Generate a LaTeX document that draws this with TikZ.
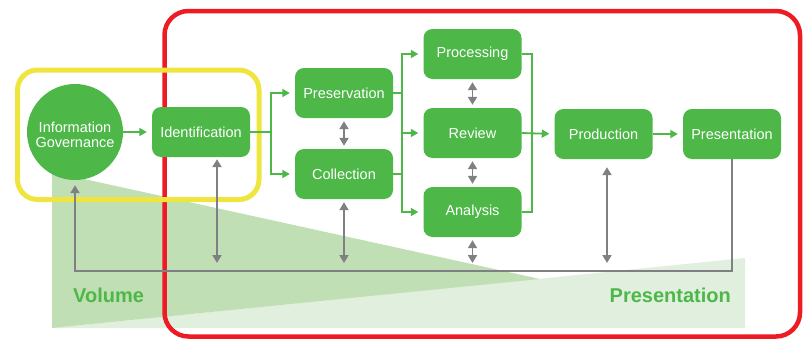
\documentclass[tikz,border=0pt]{standalone}
\usepackage{fontspec}
\setmainfont{Liberation Sans}
\usetikzlibrary{arrows.meta}
\definecolor{ngreen}{RGB}{77,183,72}
\definecolor{darktri}{RGB}{193,223,180}
\definecolor{lighttri}{RGB}{225,239,223}
\definecolor{fred}{RGB}{237,28,36}
\definecolor{fyellow}{RGB}{238,230,62}
\definecolor{lgray}{RGB}{128,128,132}
\tikzset{
  stagebox/.style={fill=ngreen, rounded corners=9pt, minimum width=98pt, minimum height=50pt,
    text=white, font=\fontsize{14.5}{16}\selectfont, inner sep=0pt},
  govcircle/.style={circle, fill=ngreen, minimum size=96pt, inner sep=0pt, text=white,
    align=center, font=\fontsize{14.5}{15.5}\selectfont},
  gline/.style={ngreen, line width=1.8pt},
  garrow/.style={ngreen, line width=1.8pt, -{Triangle[length=7.5pt,width=8pt]}, shorten >=5pt},
  dbl/.style={lgray, line width=1.9pt, {Triangle[length=8pt,width=9pt]}-{Triangle[length=8pt,width=9pt]}},
  grayline/.style={lgray, line width=1.9pt},
  biglabel/.style={text=ngreen, font=\fontsize{20}{22}\selectfont\bfseries, inner sep=0pt}
}
\begin{document}
\begin{tikzpicture}[x=1pt,y=-1pt]
\useasboundingbox (0,0) rectangle (803,340);
% background triangles
\fill[lighttri] (52,328) -- (745,258) -- (745,328) -- cycle;
\fill[darktri] (52,172) -- (540,279) -- (52,328) -- cycle;
% frames
\draw[fred, line width=4.5pt, rounded corners=24pt] (164.5,11) rectangle (800,336.5);
\draw[fyellow, line width=5pt, rounded corners=20pt] (17.5,70) rectangle (259,199.5);
% labels
\node[biglabel, anchor=west] (vol) at (73,295) {Volume};
\node[biglabel, anchor=east] (plab) at (731,295) {Presentation};
% nodes
\node[govcircle] (gov) at (75,132) {};
\node[text=white, align=center, font=\fontsize{14.5}{15.5}\selectfont, inner sep=0pt] (govtxt) at (75,135) {Information\\Governance};
\node[stagebox] (ident) at (201,132) {Identification};
\node[stagebox] (pres) at (344,93) {Preservation};
\node[stagebox] (coll) at (344,174) {Collection};
\node[stagebox] (proc) at (472.5,54) {Processing};
\node[stagebox] (rev) at (472.5,133) {Review};
\node[stagebox] (ana) at (472.5,212) {Analysis};
\node[stagebox] (prod) at (603.5,134) {Production};
\node[stagebox] (presn) at (732,134) {Presentation};
% green flow
\coordinate (b1) at (271,132);
\coordinate (b2) at (402,133);
\coordinate (b3) at (532,133);
\draw[garrow] (gov.east) -- (ident.west);
\draw[gline] (ident.east) -- (b1);
\draw[garrow] (b1) |- (pres.west);
\draw[garrow] (b1) |- (coll.west);
\draw[gline] (pres.east) -| (b2);
\draw[gline] (coll.east) -| (b2);
\draw[garrow] (b2) |- (proc.west);
\draw[garrow] (b2) -- (rev.west);
\draw[garrow] (b2) |- (ana.west);
\draw[gline] (proc.east) -| (b3);
\draw[gline] (ana.east) -| (b3);
\draw[garrow] (rev.east) -- (prod.west);
\draw[garrow] (prod.east) -- (presn.west);
% gray connectors
\coordinate (e1) at (217,263);
\coordinate (e2) at (344,263);
\coordinate (e3) at (472.5,263);
\coordinate (e4) at (607,263);
\coordinate (lc) at (75,271);
\draw[dbl, shorten <=3pt, shorten >=3pt] (pres.south) -- (coll.north);
\draw[dbl, shorten <=3pt, shorten >=3pt] (proc.south) -- (rev.north);
\draw[dbl, shorten <=3pt, shorten >=3pt] (rev.south) -- (ana.north);
\draw[dbl, shorten <=3pt] (ana.south) -- (e3);
\draw[dbl, shorten <=2pt] (ident.south -| e1) -- (e1);
\draw[dbl, shorten <=3pt] (coll.south) -- (e2);
\draw[dbl, shorten <=8pt] (prod.south -| e4) -- (e4);
\draw[grayline, -{Triangle[length=8pt,width=9pt]}, shorten >=5pt] (presn.south) |- (lc) -- (gov.south);
\end{tikzpicture}
\end{document}
